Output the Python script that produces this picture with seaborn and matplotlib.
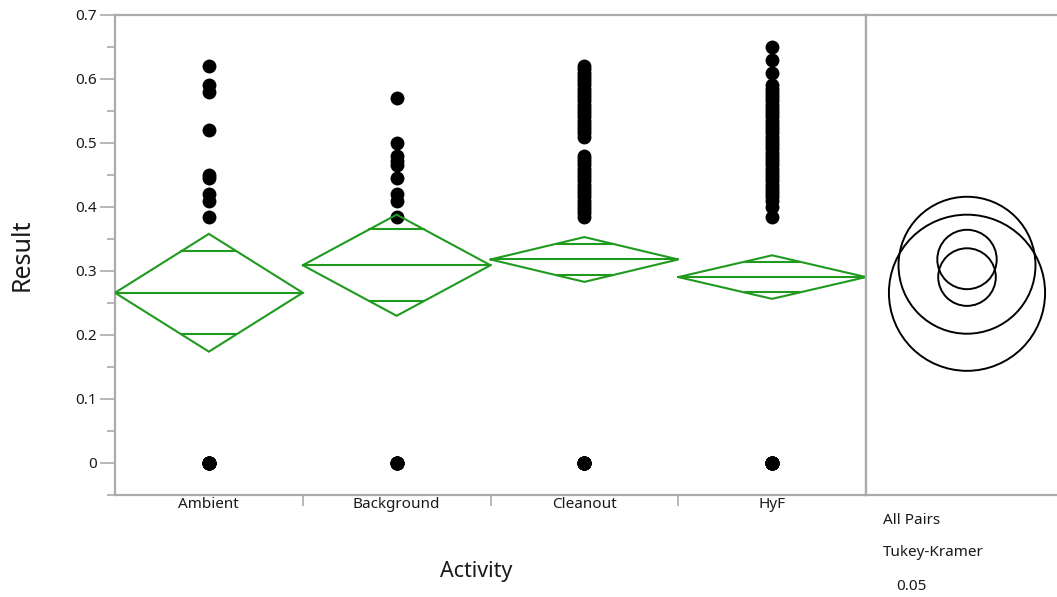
import numpy as np
import pandas as pd
import matplotlib
matplotlib.use("Agg")
import matplotlib.pyplot as plt
from matplotlib.patches import Circle
import seaborn as sns

# ---------------- data ----------------
categories = ["Ambient", "Background", "Cleanout", "HyF"]

ambient_vals = [0.62, 0.59, 0.58, 0.52, 0.45, 0.445, 0.42, 0.41, 0.385,
                0, 0, 0, 0, 0, 0, 0, 0]
background_vals = [0.57, 0.50, 0.48, 0.472, 0.465, 0.445, 0.42, 0.41, 0.385,
                   0, 0, 0, 0, 0, 0]
cleanout_vals = [0.62, 0.615, 0.61, 0.605, 0.60, 0.595, 0.59, 0.585, 0.58, 0.575,
                 0.57, 0.565, 0.56, 0.555, 0.55, 0.545, 0.54, 0.535, 0.53, 0.525,
                 0.52, 0.515, 0.51,
                 0.48, 0.475, 0.47, 0.465, 0.46, 0.455, 0.45, 0.445, 0.44, 0.435,
                 0.43, 0.425, 0.42, 0.415, 0.41, 0.405, 0.40, 0.395, 0.39, 0.385,
                 0, 0, 0, 0, 0, 0, 0, 0, 0, 0]
hyf_vals = [0.65, 0.63, 0.61,
            0.59, 0.585, 0.58, 0.575, 0.57, 0.565, 0.56, 0.555, 0.55, 0.545,
            0.54, 0.535, 0.53, 0.525, 0.52, 0.515, 0.51, 0.505, 0.50, 0.495,
            0.49, 0.485, 0.48, 0.475, 0.47, 0.465, 0.46, 0.455, 0.45, 0.445,
            0.44, 0.435, 0.43, 0.425, 0.42, 0.415, 0.41, 0.40, 0.385,
            0, 0, 0, 0, 0, 0, 0, 0, 0, 0, 0, 0]

# means diamonds (group mean, 95% CI half-width)
group_means = [0.266, 0.309, 0.318, 0.2905]
ci_half = [0.092, 0.079, 0.035, 0.034]
# Tukey-Kramer comparison circle radii (in Result units)
circle_radii = [0.122, 0.107, 0.0464, 0.045]

y_ticks = [0, 0.1, 0.2, 0.3, 0.4, 0.5, 0.6, 0.7]
y_tick_labels = ["0", "0.1", "0.2", "0.3", "0.4", "0.5", "0.6", "0.7"]

rows = []
for cat, vals in zip(categories, [ambient_vals, background_vals, cleanout_vals, hyf_vals]):
    for v in vals:
        rows.append({"Activity": cat, "Result": v})
df = pd.DataFrame(rows)

# ---------------- style ----------------
sns.set_theme(style="white")
plt.rcParams["font.family"] = ["Noto Sans", "DejaVu Sans"]
frame_col = "#ababab"
green = "#1f9a1f"
txt = "#1a1a1a"

W, H = 1057, 597
fig = plt.figure(figsize=(W / 100, H / 100), dpi=100)
L, R, B, T = 115, 866, 495, 15
ax = fig.add_axes([L / W, 1 - B / H, (R - L) / W, (B - T) / H])
ax2 = fig.add_axes([R / W, 1 - B / H, (W - R) / W, (B - T) / H])

sns.stripplot(data=df, x="Activity", y="Result", order=categories, jitter=False,
              color="black", size=10, linewidth=0, ax=ax, zorder=3)

# means diamonds
k = 1 / np.sqrt(2)
for i, (m, c) in enumerate(zip(group_means, ci_half)):
    ax.plot([i - 0.5, i, i + 0.5, i, i - 0.5], [m, m + c, m, m - c, m],
            color=green, lw=1.5, zorder=4, solid_joinstyle="miter")
    ax.plot([i - 0.5, i + 0.5], [m, m], color=green, lw=1.5, zorder=4)
    hw = 0.5 * (1 - k)
    for s in (1, -1):
        ax.plot([i - hw, i + hw], [m + s * c * k] * 2, color=green, lw=1.5, zorder=4)

ylo, yhi = -0.05, 0.7
ax.set_xlim(-0.5, 3.5)
ax.set_ylim(ylo, yhi)
ax.set_yticks(y_ticks)
ax.set_yticklabels(y_tick_labels)
ax.set_yticks([-0.05, 0.05, 0.15, 0.25, 0.35, 0.45, 0.55, 0.65], minor=True)
ax.set_xticks([0.5, 1.5, 2.5], minor=True)
ax.tick_params(axis="y", which="major", left=True, length=11, width=1.2,
               color=frame_col, labelsize=11, pad=2, labelcolor=txt)
ax.tick_params(axis="y", which="minor", left=True, length=5.5, width=1.2, color=frame_col)
ax.tick_params(axis="x", which="major", bottom=False, length=0, labelsize=11,
               pad=1.5, labelcolor=txt)
ax.tick_params(axis="x", which="minor", bottom=True, length=8, width=1.2,
               color=frame_col, direction="out")

ax.set_xlabel("Activity", fontsize=15.5, color=txt)
ax.xaxis.set_label_coords((476 - L) / (R - L), (B - 572) / (B - T))
ax.xaxis.label.set_va("center")
ax.set_ylabel("Result", fontsize=18, color=txt)
ax.yaxis.set_label_coords((22 - L) / (R - L), 0.5)
ax.yaxis.label.set_va("center")

for sp in ax.spines.values():
    sp.set_color(frame_col)
    sp.set_linewidth(1.6)
    sp.set_visible(True)

# comparison circles panel
px_per_unit = (B - T) / (yhi - ylo)
ax2.set_xlim(0, (W - R) / px_per_unit)
ax2.set_ylim(ylo, yhi)
cx = (967 - R) / px_per_unit
for m, r in zip(group_means, circle_radii):
    ax2.add_patch(Circle((cx, m), r, fill=False, edgecolor="black", lw=1.4))
ax2.set_xticks([])
ax2.set_yticks([])
for name, sp in ax2.spines.items():
    sp.set_color(frame_col)
    sp.set_linewidth(1.6)
ax2.spines["right"].set_visible(False)

fig.text(883 / W, 1 - 521 / H, "All Pairs", fontsize=11, color=txt,
         ha="left", va="center")
fig.text(883 / W, 1 - 552 / H, "Tukey-Kramer", fontsize=11, color=txt,
         ha="left", va="center")
fig.text(896 / W, 1 - 586 / H, "0.05", fontsize=11, color=txt,
         ha="left", va="center")

fig.savefig("out.png", dpi=100)
